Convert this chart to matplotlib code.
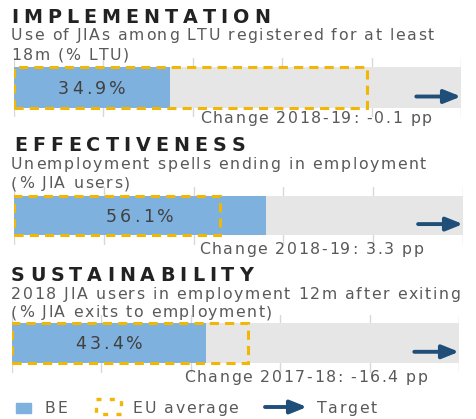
import matplotlib
matplotlib.use("Agg")
import matplotlib.pyplot as plt
from matplotlib.patches import Rectangle
from matplotlib.textpath import TextPath
from matplotlib.font_manager import FontProperties

plt.rcParams["font.family"] = ["DejaVu Sans"]

# ---------------- data ----------------
titles = ["IMPLEMENTATION", "EFFECTIVENESS", "SUSTAINABILITY"]
subtitles = [
    ["Use of JIAs among LTU registered for at least", "18m (% LTU)"],
    ["Unemployment spells ending in employment", "(% JIA users)"],
    ["2018 JIA users in employment 12m after exiting", "(% JIA exits to employment)"],
]
be_values = [34.9, 56.1, 43.4]
eu_values = [79.0, 45.8, 52.8]
value_labels = ["34.9%", "56.1%", "43.4%"]
change_labels = ["Change 2018-19: -0.1 pp", "Change 2018-19: 3.3 pp", "Change 2017-18: -16.4 pp"]
target_start = [90, 90, 90]
target_end = [100, 100, 100]
ticks = [0, 20, 40, 60, 80, 100]
legend_labels = ["BE", "EU average", "Target"]

# ---------------- style ----------------
W, H = 476, 419
BLUE = "#7FB1DE"
GREY = "#E6E6E6"
GOLD = "#F2B705"
NAVY = "#1F4E79"
GRID = "#D8D8D8"
TXT = "#595959"
BODY = 11.3
BODY_TR = 1.6

fig = plt.figure(figsize=(W / 100, H / 100), dpi=100)
fig.patch.set_facecolor("white")

# overlay axes in pixel coordinates (y down) for text
lax = fig.add_axes([0, 0, 1, 1], facecolor="none")
lax.set_xlim(0, W)
lax.set_ylim(H, 0)
lax.axis("off")
lax.set_zorder(10)


def adv(ch, size, weight):
    fp = FontProperties(family="DejaVu Sans", size=size, weight=weight)
    w1 = TextPath((0, 0), "l" + ch + "l", prop=fp).get_extents().width
    w2 = TextPath((0, 0), "ll", prop=fp).get_extents().width
    return (w1 - w2) * 100 / 72


def tracked(x, y, s, size, track, weight="normal", color="#222", ha="left"):
    widths = [adv(c, size, weight) for c in s]
    total = sum(widths) + track * (len(s) - 1)
    if ha == "center":
        x = x - total / 2
    cx = x
    for c, w in zip(s, widths):
        lax.text(cx, y, c, fontsize=size, fontweight=weight, color=color,
                 va="baseline", ha="left")
        cx += w + track


panels = [
    dict(title_y=23, sub_y=[40, 60], ax_x=(14, 461), ax_y=(58, 117), bar=(67, 108), chg=(200, 123), tx=11),
    dict(title_y=151, sub_y=[169, 188], ax_x=(14, 463), ax_y=(187, 245), bar=(196, 235), chg=(199, 254), tx=14),
    dict(title_y=281, sub_y=[299, 317], ax_x=(12, 459), ax_y=(315, 373), bar=(323, 363), chg=(184, 382), tx=11),
]

for i, p in enumerate(panels):
    tracked(p["tx"], p["title_y"], titles[i], 13.8, 5.0, weight="bold", color="#222222")
    for j, line in enumerate(subtitles[i]):
        tracked(11, p["sub_y"][j], line, BODY, BODY_TR, color=TXT)

    x0, x1 = p["ax_x"]
    ytop, ybot = p["ax_y"]
    ax = fig.add_axes([x0 / W, 1 - ybot / H, (x1 - x0) / W, (ybot - ytop) / H])
    ax.set_xlim(0, 100)
    ax.set_ylim(0, 1)
    ax.axis("off")
    b_bot = (ybot - p["bar"][1]) / (ybot - ytop)
    b_top = (ybot - p["bar"][0]) / (ybot - ytop)
    bh = b_top - b_bot
    bc = (b_top + b_bot) / 2

    for t in ticks:
        ax.axvline(t, color=GRID, lw=1, zorder=0)
    ax.barh(bc, 100, height=bh, color=GREY, zorder=1)
    ax.barh(bc, be_values[i], height=bh, color=BLUE, zorder=2)
    ax.add_patch(Rectangle((0, b_bot), eu_values[i], bh, fill=False, edgecolor=GOLD,
                           lw=2.2, linestyle=(0, (3, 2)), zorder=3))
    ay = b_bot + bh * 0.28
    ax.annotate("", xy=(target_end[i], ay), xytext=(target_start[i], ay),
                arrowprops=dict(arrowstyle="-|>,head_length=1.0,head_width=0.4",
                                color=NAVY, lw=2.8, shrinkA=0, shrinkB=0),
                zorder=5)
    # value label centred on the BE bar
    xc = x0 + (x1 - x0) * be_values[i] / 100 / 2
    yb = (p["bar"][0] + p["bar"][1]) / 2 + 6
    tracked(xc, yb, value_labels[i], 12.5, 3.2, color="#404040", ha="center")

    tracked(p["chg"][0], p["chg"][1], change_labels[i], BODY, BODY_TR, color=TXT)

# ---------------- legend ----------------
lax.add_patch(Rectangle((16, 403), 15, 10, color=BLUE))
tracked(45, 413, legend_labels[0], BODY, BODY_TR, color=TXT)
lax.add_patch(Rectangle((96, 399), 25, 15, fill=False, edgecolor=GOLD, lw=2.4,
                        linestyle=(0, (1.5, 2.5))))
tracked(133, 413, legend_labels[1], BODY, BODY_TR, color=TXT)
lax.annotate("", xy=(307, 407), xytext=(265, 407),
             arrowprops=dict(arrowstyle="-|>,head_length=1.0,head_width=0.4",
                             color=NAVY, lw=2.8, shrinkA=0, shrinkB=0))
tracked(317, 413, legend_labels[2], BODY, BODY_TR, color=TXT)

fig.savefig("out.png", dpi=100)
